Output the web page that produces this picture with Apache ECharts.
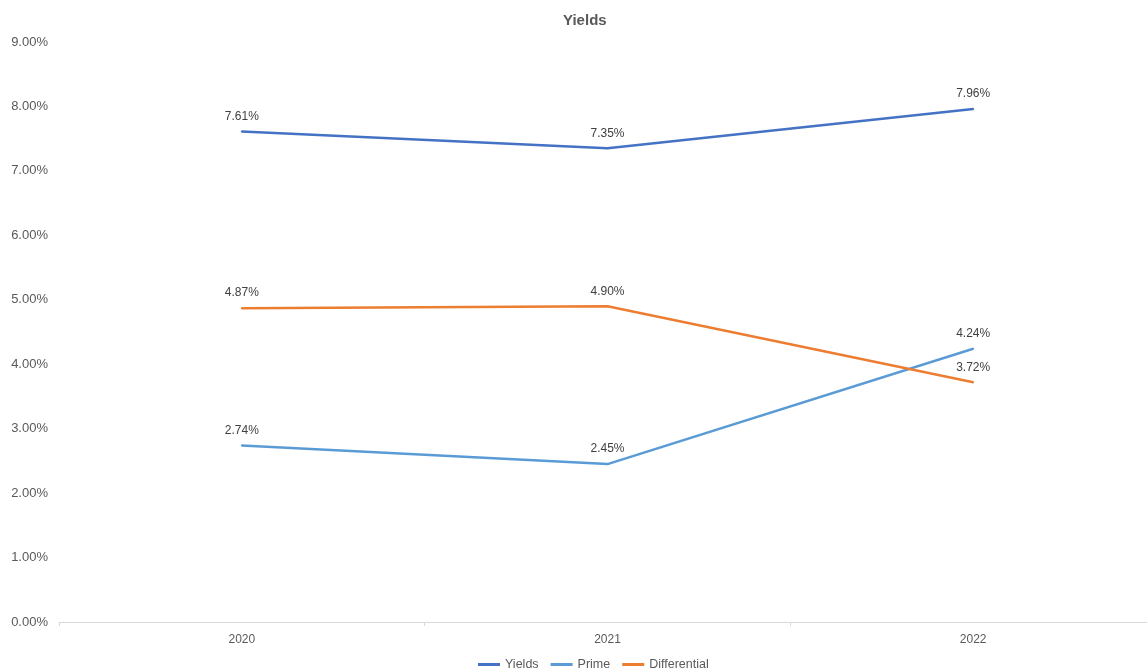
<!DOCTYPE html>
<html>
<head>
<meta charset="utf-8">
<script src="https://cdn.jsdelivr.net/npm/echarts@6/dist/echarts.min.js"></script>
<style>html,body{margin:0;padding:0;background:#fff}#c{width:1147px;height:670px}</style>
</head>
<body>
<div id="c"></div>
<script>
const categories = ['2020', '2021', '2022'];
const yields = [7.61, 7.35, 7.96];
const prime = [2.74, 2.45, 4.24];
const differential = [4.87, 4.90, 3.72];
const seriesNames = ['Yields', 'Prime', 'Differential'];
const colors = ['#4472C4', '#5B9BD5', '#ED7D31'];

const chart = echarts.init(document.getElementById('c'));
const font = 'Liberation Sans, Arial, sans-serif';
function mk(name, data, color) {
  return {
    name, type: 'line', data, symbol: 'circle', symbolSize: 2, showSymbol: true, color,
    itemStyle: { color, borderWidth: 0 },
    lineStyle: { width: 2.5, color },
    label: { show: true, position: 'top', distance: 8, formatter: p => p.value.toFixed(2) + '%',
      color: '#404040', fontSize: 12, fontFamily: font },
    emphasis: { disabled: true }
  };
}
chart.setOption({
  animation: false,
  title: { text: 'Yields', left: 558, top: 8,
    textStyle: { fontFamily: font, fontSize: 15, fontWeight: 'bold', color: '#595959' } },
  legend: { left: 473, top: 653, icon: 'rect', itemWidth: 22, itemHeight: 3, itemGap: 12,
    data: seriesNames,
    textStyle: { fontFamily: font, fontSize: 12.5, color: '#595959' } },
  grid: { left: 59, right: -9, top: 42, bottom: 48, containLabel: false, outerBoundsMode: 'none' },
  xAxis: {
    type: 'category', data: categories, boundaryGap: true,
    axisLine: { show: true, lineStyle: { color: '#d9d9d9', width: 1 } },
    axisTick: { show: true, alignWithLabel: false, length: 4, lineStyle: { color: '#d9d9d9' } },
    axisLabel: { color: '#595959', fontFamily: font, fontSize: 12, margin: 12 }
  },
  yAxis: {
    type: 'value', min: 0, max: 9, interval: 1,
    axisLine: { show: false }, axisTick: { show: false }, splitLine: { show: false },
    axisLabel: { formatter: v => v.toFixed(2) + '%', color: '#595959', fontFamily: font, fontSize: 13, margin: 11 }
  },
  series: [mk(seriesNames[0], yields, colors[0]), mk(seriesNames[1], prime, colors[1]), mk(seriesNames[2], differential, colors[2])]
});
</script>
</body>
</html>
